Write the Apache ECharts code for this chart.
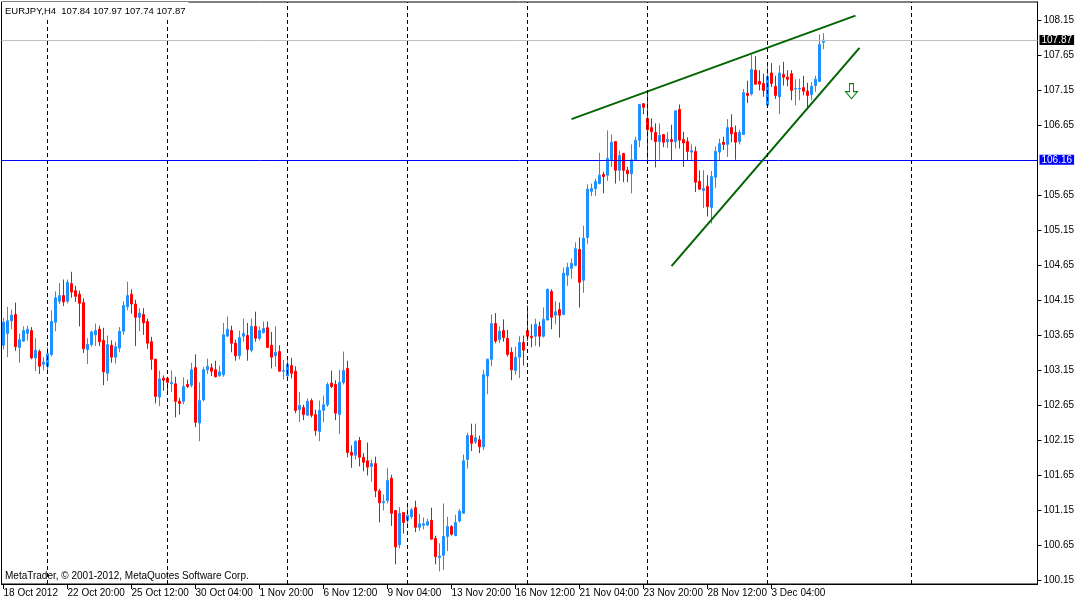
<!DOCTYPE html>
<html>
<head>
<meta charset="utf-8">
<title>EURJPY,H4</title>
<script src="https://cdn.jsdelivr.net/npm/echarts@6.0.0/dist/echarts.min.js"></script>
<style>
    html, body { margin: 0; padding: 0; background: #fff; }
    #chart { width: 1075px; height: 602px; }
</style>
</head>
<body>
<div id="chart"></div>
<script>
var symbolName = 'EURJPY,H4';

// H4 bars, 18 Oct 2012 .. 4 Dec 2012
var opens = [
    103.51, 103.68, 103.86, 103.95, 103.48, 103.57, 103.68, 103.72, 103.33, 103.42,
    103.24, 103.21, 103.38, 103.84, 104.14, 104.22, 104.14, 104.39, 104.29, 104.24,
    104.12, 103.45, 103.52, 103.66, 103.74, 103.58, 103.11, 103.51, 103.34, 103.47,
    103.71, 104.06, 104.24, 104.10, 103.91, 103.95, 103.85, 103.56, 103.31, 102.77,
    103.04, 103.04, 102.96, 102.96, 102.71, 102.71, 102.95, 102.94, 103.19, 102.40,
    102.73, 103.16, 103.19, 103.16, 103.08, 103.09, 103.64, 103.72, 103.54, 103.36,
    103.64, 103.65, 103.44, 103.78, 103.61, 103.69, 103.76, 103.51, 103.36, 103.42,
    103.14, 103.07, 103.22, 103.14, 102.59, 102.62, 102.51, 102.72, 102.52, 102.28,
    102.58, 102.66, 102.97, 102.95, 102.52, 102.98, 103.18, 101.98, 101.94, 102.15,
    101.91, 101.86, 101.78, 101.82, 101.43, 101.26, 101.29, 101.61, 101.15, 100.66,
    101.12, 101.01, 101.06, 101.19, 100.91, 100.94, 100.94, 101.01, 100.75, 100.48,
    100.51, 100.78, 100.92, 100.79, 101.00, 101.11, 101.88, 102.22, 102.13, 102.16,
    102.06, 103.07, 103.31, 103.82, 103.59, 103.72, 103.61, 103.41, 103.15, 103.34,
    103.55, 103.72, 103.64, 103.64, 103.78, 103.64, 103.87, 104.28, 103.94, 104.02,
    103.95, 104.51, 104.61, 104.65, 104.88, 104.44, 105.05, 105.71, 105.75, 105.82,
    105.95, 105.94, 106.15, 106.42, 106.01, 106.25, 106.01, 105.96, 106.16, 106.44,
    106.96, 106.75, 106.62, 106.55, 106.42, 106.52, 106.42, 106.45, 106.42, 106.88,
    106.45, 106.42, 106.27, 106.28, 105.85, 105.72, 105.78, 105.48, 105.91, 106.27,
    106.41, 106.38, 106.62, 106.55, 106.42, 106.52, 107.11, 107.10, 107.44, 107.28,
    107.25, 106.94, 107.40, 107.21, 107.06, 107.38, 107.34, 107.39, 107.17, 107.17,
    107.19, 107.14, 107.09, 107.22, 107.28, 107.84
];
var highs = [
    103.90, 104.06, 104.02, 104.12, 103.68, 103.78, 103.79, 103.77, 103.61, 103.45,
    103.34, 103.48, 104.01, 104.28, 104.40, 104.45, 104.45, 104.56, 104.36, 104.29,
    104.18, 103.61, 103.72, 103.82, 103.79, 103.76, 103.65, 103.58, 103.56, 103.77,
    104.14, 104.42, 104.31, 104.16, 104.04, 104.04, 103.89, 103.63, 103.32, 103.15,
    103.08, 103.06, 103.15, 103.06, 102.76, 103.05, 103.02, 103.26, 103.38, 102.98,
    103.20, 103.32, 103.25, 103.29, 103.22, 103.83, 103.92, 103.79, 103.59, 103.72,
    103.89, 103.83, 103.89, 103.99, 103.78, 103.85, 103.85, 103.70, 103.78, 103.51,
    103.30, 103.30, 103.33, 103.21, 102.84, 102.66, 102.75, 102.75, 102.59, 102.72,
    102.79, 102.98, 103.15, 103.01, 103.16, 103.42, 103.29, 102.08, 102.15, 102.20,
    101.97, 102.12, 101.88, 101.92, 101.46, 101.38, 101.76, 101.66, 101.15, 101.20,
    101.12, 101.24, 101.19, 101.29, 101.10, 101.05, 101.03, 101.19, 100.79, 100.68,
    101.25, 101.06, 100.94, 101.09, 101.17, 101.95, 102.26, 102.39, 102.39, 102.22,
    103.16, 103.32, 103.95, 103.97, 103.78, 103.88, 103.73, 103.48, 103.49, 103.64,
    103.65, 104.08, 103.81, 103.89, 103.85, 104.05, 104.32, 104.31, 104.14, 104.12,
    104.62, 104.69, 104.75, 104.98, 105.05, 105.22, 105.81, 105.82, 105.89, 106.26,
    105.99, 106.58, 106.52, 106.42, 106.29, 106.26, 106.06, 106.38, 106.49, 106.95,
    106.97, 107.14, 106.75, 106.68, 106.68, 106.52, 106.56, 106.66, 106.86, 106.95,
    106.56, 106.48, 106.38, 106.35, 106.01, 106.01, 105.94, 106.00, 106.35, 106.46,
    106.49, 106.74, 106.81, 106.65, 106.59, 107.17, 107.29, 107.66, 107.64, 107.44,
    107.39, 107.50, 107.54, 107.36, 107.51, 107.56, 107.44, 107.44, 107.31, 107.32,
    107.36, 107.26, 107.27, 107.36, 107.95, 107.97
];
var lows = [
    103.45, 103.34, 103.74, 103.43, 103.26, 103.56, 103.58, 103.31, 103.14, 103.10,
    103.15, 103.10, 103.35, 103.71, 104.10, 104.07, 104.11, 104.19, 104.13, 103.78,
    103.40, 103.24, 103.49, 103.50, 103.50, 102.94, 103.00, 103.26, 103.25, 103.41,
    103.66, 104.01, 103.96, 103.50, 103.71, 103.66, 103.46, 103.16, 102.68, 102.64,
    102.86, 102.82, 102.84, 102.48, 102.52, 102.67, 102.90, 102.91, 102.34, 102.14,
    102.71, 103.10, 103.07, 103.05, 103.06, 103.06, 103.64, 103.41, 103.29, 103.31,
    103.56, 103.29, 103.41, 103.56, 103.58, 103.68, 103.47, 103.18, 103.20, 103.14,
    103.02, 103.03, 103.04, 102.54, 102.41, 102.44, 102.51, 102.48, 102.22, 102.14,
    102.41, 102.63, 102.90, 102.44, 102.24, 102.95, 101.91, 101.76, 101.88, 101.78,
    101.71, 101.65, 101.56, 101.34, 100.98, 101.15, 101.25, 100.93, 100.38, 100.61,
    100.82, 100.91, 101.03, 100.84, 100.86, 100.88, 100.93, 100.74, 100.38, 100.28,
    100.30, 100.57, 100.79, 100.79, 100.98, 101.11, 101.75, 102.00, 102.10, 101.97,
    102.01, 102.81, 103.21, 103.54, 103.54, 103.56, 103.35, 103.01, 103.09, 103.04,
    103.22, 103.57, 103.48, 103.50, 103.49, 103.62, 103.87, 103.74, 103.81, 103.62,
    103.94, 104.36, 104.46, 104.64, 104.05, 104.26, 104.96, 105.64, 105.64, 105.81,
    105.68, 105.86, 106.06, 105.82, 105.86, 105.84, 105.84, 105.68, 106.15, 106.34,
    106.81, 106.15, 106.44, 106.05, 106.16, 106.34, 106.33, 106.15, 106.32, 106.32,
    106.06, 106.15, 106.16, 105.70, 105.73, 105.47, 105.35, 105.25, 105.76, 106.15,
    106.30, 106.20, 106.41, 106.16, 106.38, 106.52, 106.97, 107.08, 107.24, 107.15,
    107.06, 106.94, 107.20, 107.03, 106.81, 107.22, 107.21, 107.01, 106.94, 107.01,
    107.08, 106.91, 107.01, 107.13, 107.27, 107.74
];
var closes = [
    103.84, 103.86, 103.94, 103.49, 103.59, 103.72, 103.74, 103.33, 103.44, 103.21,
    103.27, 103.39, 103.85, 104.19, 104.22, 104.13, 104.41, 104.27, 104.21, 104.11,
    103.46, 103.52, 103.70, 103.72, 103.56, 103.13, 103.52, 103.34, 103.49, 103.71,
    104.08, 104.22, 104.10, 103.91, 103.97, 103.83, 103.54, 103.31, 102.78, 103.03,
    103.01, 102.98, 102.98, 102.71, 102.68, 102.92, 102.92, 103.16, 102.41, 102.72,
    103.16, 103.21, 103.14, 103.06, 103.13, 103.66, 103.74, 103.54, 103.36, 103.62,
    103.68, 103.45, 103.78, 103.61, 103.72, 103.75, 103.48, 103.34, 103.41, 103.14,
    103.15, 103.24, 103.11, 102.58, 102.65, 102.52, 102.71, 102.51, 102.29, 102.58,
    102.66, 102.95, 102.92, 102.54, 102.98, 103.15, 101.98, 101.94, 102.14, 101.91,
    101.84, 101.77, 101.82, 101.43, 101.26, 101.28, 101.58, 101.11, 100.63, 101.11,
    100.98, 101.08, 101.16, 100.91, 100.96, 100.96, 100.99, 100.74, 100.49, 100.50,
    100.78, 100.92, 100.81, 100.98, 101.14, 101.86, 102.22, 102.11, 102.19, 102.06,
    103.09, 103.31, 103.82, 103.57, 103.71, 103.62, 103.38, 103.16, 103.34, 103.55,
    103.44, 103.64, 103.62, 103.81, 103.64, 103.88, 104.31, 103.91, 103.99, 103.94,
    104.54, 104.62, 104.68, 104.89, 104.41, 105.04, 105.74, 105.75, 105.85, 105.94,
    105.92, 106.18, 106.41, 106.01, 106.22, 106.01, 105.96, 106.16, 106.44, 106.95,
    106.91, 106.59, 106.56, 106.42, 106.51, 106.41, 106.45, 106.42, 106.86, 106.44,
    106.40, 106.28, 106.29, 105.84, 105.74, 105.75, 105.49, 105.92, 106.28, 106.39,
    106.38, 106.62, 106.53, 106.41, 106.55, 107.12, 107.08, 107.45, 107.24, 107.24,
    107.15, 107.35, 107.25, 107.08, 107.40, 107.34, 107.31, 107.15, 107.18, 107.18,
    107.14, 107.08, 107.21, 107.31, 107.81, 107.87
];

// one time label every 16 bars, starting at the first bar
var dateLabels = [
    '18 Oct 2012', '22 Oct 20:00', '25 Oct 12:00', '30 Oct 04:00', '1 Nov 20:00',
    '6 Nov 12:00', '9 Nov 04:00', '13 Nov 20:00', '16 Nov 12:00', '21 Nov 04:00',
    '23 Nov 20:00', '28 Nov 12:00', '3 Dec 04:00'
];
var labelStep = 16;
var emptyBars = 53;                 // free space right of the last bar
var weekSeparators = [11, 41, 71, 101, 131, 161, 191, 227];
var priceTicks = [108.15, 107.65, 107.15, 106.65, 105.65, 105.15, 104.65, 104.15,
    103.65, 103.15, 102.65, 102.15, 101.65, 101.15, 100.65, 100.15];
var bidPrice = 107.87;
var levelPrice = 106.16;
var upperTrend = [[142, 106.74], [213, 108.22]];
var lowerTrend = [[167, 104.64], [214, 107.76]];
var arrowAt = [212, 107.14];

var n = opens.length;
var bars = [];
for (var i = 0; i < n + emptyBars; i++) bars.push(i);
var candles = opens.map(function (o, i) {
    return [o, closes[i], lows[i], highs[i]];
});

var font = 'Liberation Sans';
var chart = echarts.init(document.getElementById('chart'));

var markLines = [
    {
        yAxis: bidPrice,
        lineStyle: { color: '#c0c0c0', width: 1, type: 'solid' },
        label: {
            show: true, position: 'end', distance: 2,
            formatter: bidPrice.toFixed(2),
            color: '#fff', backgroundColor: '#000',
            fontFamily: font, fontSize: 10, lineHeight: 10, padding: [0, 2]
        }
    },
    {
        yAxis: levelPrice,
        lineStyle: { color: '#0000ff', width: 1, type: 'solid' },
        label: {
            show: true, position: 'end', distance: 2,
            formatter: levelPrice.toFixed(2),
            color: '#fff', backgroundColor: '#0000ff',
            fontFamily: font, fontSize: 10, lineHeight: 10, padding: [0, 2]
        }
    },
    [
        { coord: upperTrend[0], lineStyle: { color: '#006400', width: 2, type: 'solid' } },
        { coord: upperTrend[1] }
    ],
    [
        { coord: lowerTrend[0], lineStyle: { color: '#006400', width: 2, type: 'solid' } },
        { coord: lowerTrend[1] }
    ]
];
weekSeparators.forEach(function (b) {
    markLines.push({
        xAxis: b,
        lineStyle: { color: '#000', width: 1, type: [4, 3] }
    });
});

var option = {
    animation: false,
    backgroundColor: '#fff',
    title: {
        text: symbolName + '  ' + [opens[n - 1], highs[n - 1], lows[n - 1], closes[n - 1]]
            .map(function (v) { return v.toFixed(2); }).join(' '),
        left: 2,
        top: 2,
        padding: [3, 3, 3, 3],
        backgroundColor: '#fff',
        textStyle: { fontFamily: font, fontSize: 9.5, fontWeight: 'normal', color: '#000', lineHeight: 12 }
    },
    graphic: [{
        type: 'text',
        left: 5,
        top: 571,
        z: 100,
        style: {
            text: 'MetaTrader, \u00a9 2001-2012, MetaQuotes Software Corp.',
            font: '10px "Liberation Sans"',
            fill: '#000'
        }
    }],
    grid: {
        left: 1.5,
        right: 37.5,
        top: 2,
        bottom: 18,
        containLabel: false,
        outerBoundsMode: 'none',
        show: true,
        borderColor: '#000',
        borderWidth: 1,
        backgroundColor: '#fff'
    },
    xAxis: {
        type: 'category',
        data: bars,
        boundaryGap: true,
        axisLine: { show: true, lineStyle: { color: '#000', width: 1 } },
        axisTick: {
            show: true,
            alignWithLabel: true,
            length: 5,
            interval: function (i) { return i % labelStep === 0 && i < n; },
            lineStyle: { color: '#000' }
        },
        axisLabel: {
            interval: function (i) { return i % labelStep === 0 && i < n; },
            formatter: function (v, i) { return dateLabels[i / labelStep] || ''; },
            align: 'left',
            margin: 4,
            hideOverlap: false,
            color: '#000',
            fontFamily: font,
            fontSize: 10
        },
        splitLine: { show: false }
    },
    yAxis: {
        type: 'value',
        position: 'right',
        min: 100.10,
        max: 108.414,
        scale: true,
        axisLine: { show: true, lineStyle: { color: '#000', width: 1 } },
        axisTick: { show: true, length: 4, customValues: priceTicks, lineStyle: { color: '#000' } },
        axisLabel: {
            customValues: priceTicks,
            formatter: function (v) { return v.toFixed(2); },
            margin: 6,
            hideOverlap: false,
            color: '#000',
            fontFamily: font,
            fontSize: 10
        },
        splitLine: { show: false }
    },
    series: [{
        name: symbolName,
        type: 'candlestick',
        data: candles,
        barWidth: 2,
        itemStyle: {
            color: '#1e90ff',
            color0: '#ff0000',
            borderColor: '#1e90ff',
            borderColor0: '#ff0000',
            borderWidth: 1
        },
        markLine: {
            silent: true,
            symbol: ['none', 'none'],
            label: { show: false },
            emphasis: { disabled: true },
            data: markLines
        },
        markPoint: {
            silent: true,
            data: [{
                coord: arrowAt,
                symbol: 'path://M4 0L8 0L8 8L12 8L6 15L0 8L4 8Z',
                symbolSize: [12, 15],
                itemStyle: { color: 'rgba(0,0,0,0)', borderColor: '#008000', borderWidth: 1 },
                label: { show: false }
            }]
        }
    }]
};

chart.setOption(option);
</script>
</body>
</html>
